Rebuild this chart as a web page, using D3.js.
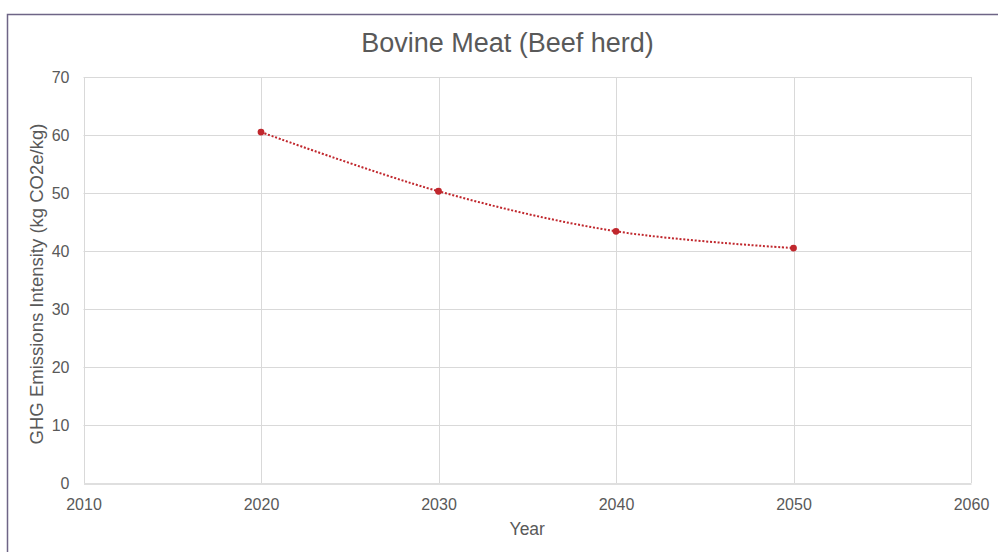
<!DOCTYPE html>
<html>
<head>
<meta charset="utf-8">
<script src="https://cdn.jsdelivr.net/npm/d3@7"></script>
<style>
  html, body { margin: 0; padding: 0; background: #ffffff; }
  svg { display: block; font-family: "Liberation Sans", Arial, sans-serif; }
</style>
</head>
<body>
<svg id="chart" width="998" height="552"></svg>
<script>
// Emission intensity of beef-herd bovine meat, by projection year
const years = [2020, 2030, 2040, 2050];
const intensity = [60.5, 50.3, 43.4, 40.5];
const xTicks = [2010, 2020, 2030, 2040, 2050, 2060];
const yTicks = [0, 10, 20, 30, 40, 50, 60, 70];
const chartTitle = "Bovine Meat (Beef herd)";
const xTitle = "Year";
const yTitle = "GHG Emissions Intensity (kg CO2e/kg)";

const W = 998, H = 552;
const plot = { left: 83.5, right: 971, top: 77, bottom: 483 };
const textColor = "#595959";
const lineColor = "#c0272d";
const tickFont = 16;

const svg = d3.select("#chart");

// outer chart frame (runs off the right and bottom edges of the window)
svg.append("rect")
  .attr("x", 7.5).attr("y", 14.5)
  .attr("width", W + 20).attr("height", H + 20)
  .attr("fill", "#ffffff")
  .attr("stroke", "#6e6586")
  .attr("stroke-width", 1.5);

const x = d3.scaleLinear().domain([2010, 2060]).range([plot.left, plot.right]);
const y = d3.scaleLinear().domain([0, 70]).range([plot.bottom, plot.top]);

// gridlines
const grid = svg.append("g");
grid.selectAll("line.h").data(yTicks.filter(d => d > 0)).join("line")
  .attr("class", "h")
  .attr("x1", plot.left).attr("x2", plot.right)
  .attr("y1", d => Math.round(y(d)) + 0.5).attr("y2", d => Math.round(y(d)) + 0.5)
  .attr("stroke", "#d9d9d9").attr("stroke-width", 1);
grid.selectAll("line.v").data(xTicks).join("line")
  .attr("class", "v")
  .attr("x1", d => Math.round(x(d)) + 0.5).attr("x2", d => Math.round(x(d)) + 0.5)
  .attr("y1", plot.top).attr("y2", plot.bottom)
  .attr("stroke", "#d9d9d9").attr("stroke-width", 1);

// x axis
const xAxis = svg.append("g")
  .attr("transform", `translate(0,${Math.round(plot.bottom) + 0.5})`)
  .call(d3.axisBottom(x).tickValues(xTicks).tickFormat(d3.format("d")).tickSize(0).tickPadding(15));
xAxis.select(".domain").attr("stroke", "#bfbfbf").attr("stroke-width", 1);
xAxis.selectAll("text").attr("fill", textColor).attr("font-size", tickFont)
  .attr("font-family", "Liberation Sans, Arial, sans-serif");

// y axis
const yAxis = svg.append("g")
  .attr("transform", `translate(${plot.left},0)`)
  .call(d3.axisLeft(y).tickValues(yTicks).tickFormat(d3.format("d")).tickSize(0).tickPadding(14));
yAxis.select(".domain").remove();
yAxis.selectAll("text").attr("fill", textColor).attr("font-size", tickFont)
  .attr("font-family", "Liberation Sans, Arial, sans-serif");

// series: smoothed dotted line with round markers
const pts = years.map((yr, i) => [yr, intensity[i]]);
const line = d3.line()
  .x(d => x(d[0])).y(d => y(d[1]))
  .curve(d3.curveCatmullRom.alpha(0.5));
svg.append("path")
  .datum(pts)
  .attr("d", line)
  .attr("fill", "none")
  .attr("stroke", lineColor)
  .attr("stroke-width", 2)
  .attr("stroke-dasharray", "2,1.8");
svg.selectAll("circle.pt").data(pts).join("circle")
  .attr("class", "pt")
  .attr("cx", d => x(d[0])).attr("cy", d => y(d[1]))
  .attr("r", 3.4)
  .attr("fill", lineColor);

// titles
svg.append("text")
  .attr("x", 507.5).attr("y", 51.5)
  .attr("text-anchor", "middle")
  .attr("fill", textColor).attr("font-size", 27)
  .text(chartTitle);
svg.append("text")
  .attr("x", (plot.left + plot.right) / 2).attr("y", 535)
  .attr("text-anchor", "middle")
  .attr("fill", textColor).attr("font-size", 17.5)
  .text(xTitle);
svg.append("text")
  .attr("transform", `translate(43,284) rotate(-90)`)
  .attr("text-anchor", "middle")
  .attr("fill", textColor).attr("font-size", 18.5)
  .text(yTitle);
</script>
</body>
</html>
